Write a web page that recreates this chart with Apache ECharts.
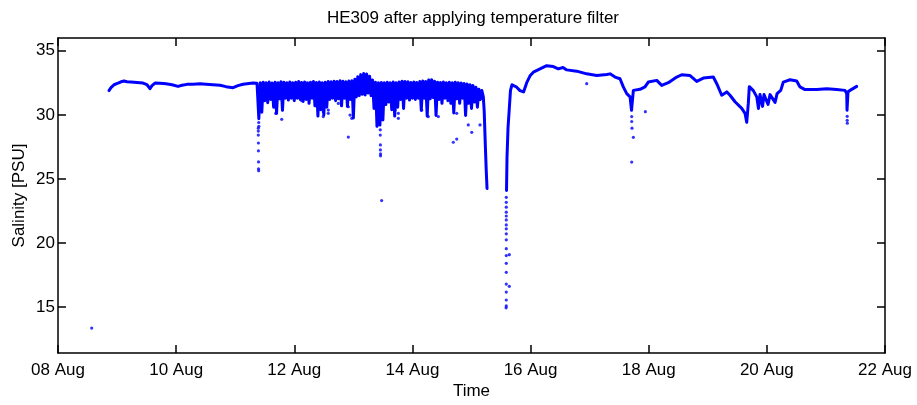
<!DOCTYPE html>
<html>
<head>
<meta charset="utf-8">
<script src="https://cdn.jsdelivr.net/npm/echarts@6/dist/echarts.min.js"></script>
<style>
html,body{margin:0;padding:0;background:#fff;}
#chart{width:917px;height:405px;}
</style>
</head>
<body>
<div id="chart"></div>
<script>
// Days since 08 Aug 00:00, salinity [PSU]
const tickLabels = ['08 Aug','10 Aug','12 Aug','14 Aug','16 Aug','18 Aug','20 Aug','22 Aug'];
const yTicks = [15, 20, 25, 30, 35];

const calmSeg = [
  [0.863,31.89],[0.897,32.12],[0.948,32.35],[1.016,32.47],[1.067,32.58],[1.117,32.64],
  [1.168,32.58],[1.236,32.56],[1.337,32.52],[1.439,32.48],[1.507,32.35],[1.557,32.04],
  [1.591,32.28],[1.642,32.48],[1.727,32.47],[1.828,32.43],[1.930,32.35],[2.032,32.22],
  [2.099,32.31],[2.184,32.38],[2.285,32.39],[2.404,32.43],[2.506,32.39],[2.624,32.35],
  [2.743,32.31],[2.844,32.20],[2.963,32.12],[3.047,32.28],[3.132,32.39],[3.200,32.43],
  [3.301,32.48],[3.369,32.47]
];

const spikySeg = [
  [3.375,32.47],[3.40,29.70],[3.425,32.50],[3.45,30.20],[3.475,32.55],[3.50,31.10],
  [3.525,32.50],[3.55,30.95],[3.575,32.56],[3.60,31.20],[3.625,32.48],[3.65,30.60],
  [3.675,32.54],[3.70,30.10],[3.725,32.50],[3.75,31.25],[3.775,32.58],[3.80,30.35],
  [3.825,32.55],[3.85,31.30],[3.875,32.50],[3.90,31.15],[3.925,32.57],[3.95,31.30],
  [3.975,32.50],[4.00,31.10],[4.025,32.55],[4.05,31.30],[4.075,32.60],[4.10,31.20],
  [4.125,32.52],[4.15,31.05],[4.175,32.57],[4.20,31.20],[4.225,32.50],[4.25,30.90],
  [4.275,32.55],[4.30,31.30],[4.325,32.60],[4.35,30.70],[4.375,32.52],[4.40,29.90],
  [4.425,32.56],[4.45,30.40],[4.475,32.50],[4.50,30.00],[4.525,32.55],[4.55,30.60],
  [4.575,32.60],[4.60,31.20],[4.625,32.58],[4.65,31.30],[4.675,32.62],[4.70,31.10],
  [4.725,32.60],[4.75,31.25],[4.775,32.66],[4.80,30.70],[4.825,32.62],[4.85,31.30],
  [4.875,32.58],[4.90,30.65],[4.925,32.64],[4.95,31.20],[4.975,32.66],[5.00,29.75],
  [5.025,32.78],[5.05,31.40],[5.075,32.98],[5.10,31.50],[5.125,33.14],[5.15,31.60],
  [5.175,33.22],[5.20,31.55],[5.225,33.18],[5.25,31.70],[5.275,33.02],[5.30,31.50],
  [5.325,32.72],[5.35,30.50],[5.375,32.55],[5.40,29.10],[5.425,32.50],[5.45,29.20],
  [5.475,32.52],[5.50,29.60],[5.525,32.50],[5.55,30.80],[5.575,32.54],[5.60,31.00],
  [5.625,32.50],[5.65,30.40],[5.675,32.56],[5.70,29.90],[5.725,32.50],[5.75,30.60],
  [5.775,32.57],[5.80,31.20],[5.825,32.62],[5.85,30.50],[5.875,32.60],[5.90,31.30],
  [5.925,32.58],[5.95,31.15],[5.975,32.52],[6.00,31.30],[6.025,32.57],[6.05,31.20],
  [6.075,32.52],[6.10,31.30],[6.125,32.60],[6.15,30.35],[6.175,32.64],[6.20,31.30],
  [6.225,32.60],[6.25,29.90],[6.275,32.72],[6.30,31.25],[6.325,32.74],[6.35,31.35],
  [6.375,32.62],[6.40,29.95],[6.425,32.55],[6.45,31.20],[6.475,32.52],[6.50,30.90],
  [6.525,32.56],[6.55,31.30],[6.575,32.50],[6.60,31.10],[6.625,32.54],[6.65,30.90],
  [6.675,32.50],[6.70,30.15],[6.725,32.54],[6.75,31.25],[6.775,32.50],[6.80,30.90],
  [6.825,32.48],[6.85,31.30],[6.875,32.45],[6.90,29.95],[6.925,32.40],[6.95,30.90],
  [6.975,32.35],[7.00,30.50],[7.025,32.30],[7.05,31.00],[7.075,32.15],[7.10,30.60],
  [7.125,32.00],[7.15,31.20],[7.175,31.90],[7.20,31.40],[7.215,30.30],[7.235,27.50],
  [7.25,25.60],[7.263,24.25]
];

const recoverySeg = [
  [7.593,24.10],[7.601,26.64],[7.618,28.95],[7.640,30.50],[7.660,31.91],[7.686,32.35],
  [7.708,32.48],[7.765,32.16],[7.821,31.89],[7.881,31.79],[7.935,32.51],[7.991,33.05],
  [8.047,33.33],[8.160,33.59],[8.273,33.84],[8.385,33.77],[8.470,33.59],[8.549,33.70],
  [8.612,33.51],[8.781,33.41],[8.950,33.20],[9.120,33.07],[9.289,33.15],[9.345,33.20],
  [9.430,32.95],[9.514,32.82],[9.570,32.18],[9.628,31.66],[9.684,31.40],[9.709,30.35],
  [9.740,31.91],[9.853,31.99],[9.937,32.18],[9.993,32.56],[10.136,32.69],[10.220,32.30],
  [10.332,32.51],[10.474,32.95],[10.559,33.13],[10.700,33.07],[10.813,32.61],[10.925,32.87],
  [11.094,32.95],[11.152,32.43],[11.236,31.53],[11.321,31.79],[11.376,31.53],[11.461,31.02],
  [11.575,30.50],[11.630,30.12],[11.659,29.42],[11.686,30.89],[11.703,32.20],[11.727,32.30],
  [11.771,31.89],[11.829,31.40],[11.858,30.50],[11.884,31.58],[11.927,30.66],[11.952,31.58],
  [12.020,30.81],[12.054,31.58],[12.139,30.97],[12.173,31.66],[12.235,31.91],[12.279,32.56],
  [12.392,32.74],[12.505,32.64],[12.561,32.18],[12.646,31.97],[12.844,31.97],[13.014,32.04],
  [13.183,31.97],[13.323,31.91],[13.352,31.66],[13.357,30.35],[13.374,31.81],[13.408,31.91],
  [13.521,32.22]
];

const outlierDots = [
  [0.571,13.35],
  [3.391,28.96],[3.391,28.73],[3.391,28.42],[3.393,27.80],[3.393,27.19],[3.395,26.32],
  [3.395,25.79],[3.397,25.64],[3.398,29.40],[3.400,29.10],
  [3.686,30.94],[3.686,30.58],[3.686,30.12],[3.787,29.65],[4.126,31.10],[4.435,30.58],
  [4.491,30.25],[4.491,29.86],[4.576,30.37],[4.576,30.12],[4.745,30.89],[4.915,30.63],
  [4.944,29.98],[4.973,29.73],[4.915,28.26],
  [5.456,28.83],[5.456,28.42],[5.458,27.65],[5.458,27.26],[5.460,26.95],[5.460,26.80],
  [5.479,23.30],[5.706,30.37],[5.762,30.12],[5.762,29.73],[6.158,30.37],[6.269,29.86],
  [6.439,29.86],[6.692,27.86],[6.750,28.11],[6.750,30.12],[6.946,29.21],[7.004,28.63],
  [7.144,29.21],
  [7.589,23.56],[7.589,23.17],[7.589,22.79],[7.589,22.40],[7.589,22.10],[7.589,21.79],
  [7.589,21.40],[7.589,21.10],[7.589,20.71],[7.589,20.24],[7.589,19.55],[7.589,19.01],
  [7.589,18.40],[7.589,17.70],[7.589,16.78],[7.589,16.16],[7.589,15.54],[7.589,15.08],
  [7.586,14.93],[7.640,19.08],[7.640,16.61],
  [8.950,32.43],[9.712,29.86],[9.712,29.48],[9.717,28.96],[9.740,28.24],[9.712,26.31],
  [9.943,30.25],[13.360,29.88],[13.360,29.57],[13.362,29.35]
];

const BLUE = '#0000ff';
const FONT = "'Liberation Sans', Arial, sans-serif";

const chart = echarts.init(document.getElementById('chart'), null, {renderer: 'canvas'});

const lineStyleCommon = {color: BLUE, width: 3, join: 'round', cap: 'round'};

const xCommon = {
  type: 'value', min: 0, max: 14, interval: 2,
  axisLine: {show: true, onZero: false, lineStyle: {color: '#000', width: 1.5}},
  axisTick: {show: true, inside: true, length: 8, lineStyle: {color: '#000', width: 1.5}},
  splitLine: {show: false}
};
const yCommon = {
  type: 'value', min: 11.4, max: 36,
  axisLine: {show: true, onZero: false, lineStyle: {color: '#000', width: 1.5}},
  axisTick: {show: true, inside: true, length: 8, customValues: yTicks, lineStyle: {color: '#000', width: 1.5}},
  splitLine: {show: false}
};

chart.setOption({
  animation: false,
  backgroundColor: '#fff',
  title: {
    text: 'HE309 after applying temperature filter',
    left: 468, top: 5, textAlign: 'center',
    textStyle: {fontFamily: FONT, fontSize: 17, fontWeight: 'normal', color: '#000'}
  },
  grid: {left: 58, right: 32, top: 38, bottom: 47, containLabel: false},
  xAxis: [
    Object.assign({}, xCommon, {
      position: 'bottom',
      name: 'Time', nameLocation: 'middle', nameGap: 30, nameMoveOverlap: false,
      nameTextStyle: {fontFamily: FONT, fontSize: 17, color: '#000'},
      axisLabel: {show: true, margin: 9, fontFamily: FONT, fontSize: 17, color: '#000',
        formatter: v => tickLabels[Math.round(v / 2)]}
    }),
    Object.assign({}, xCommon, {position: 'top', axisLabel: {show: false}})
  ],
  yAxis: [
    Object.assign({}, yCommon, {
      position: 'left',
      name: 'Salinity [PSU]', nameLocation: 'middle', nameGap: 30, nameRotate: 90, nameMoveOverlap: false,
      nameTextStyle: {fontFamily: FONT, fontSize: 17, color: '#000'},
      axisLabel: {show: true, margin: 3, customValues: yTicks, fontFamily: FONT, fontSize: 17, color: '#000'}
    }),
    Object.assign({}, yCommon, {position: 'right', axisLabel: {show: false}})
  ],
  series: [
    {type: 'line', data: calmSeg.concat(spikySeg), showSymbol: false, lineStyle: lineStyleCommon, z: 3},
    {type: 'line', data: recoverySeg, showSymbol: false, lineStyle: lineStyleCommon, z: 3},
    {type: 'scatter', data: outlierDots, symbol: 'circle', symbolSize: 3.2, itemStyle: {color: BLUE}, z: 4}
  ]
});
</script>
</body>
</html>
